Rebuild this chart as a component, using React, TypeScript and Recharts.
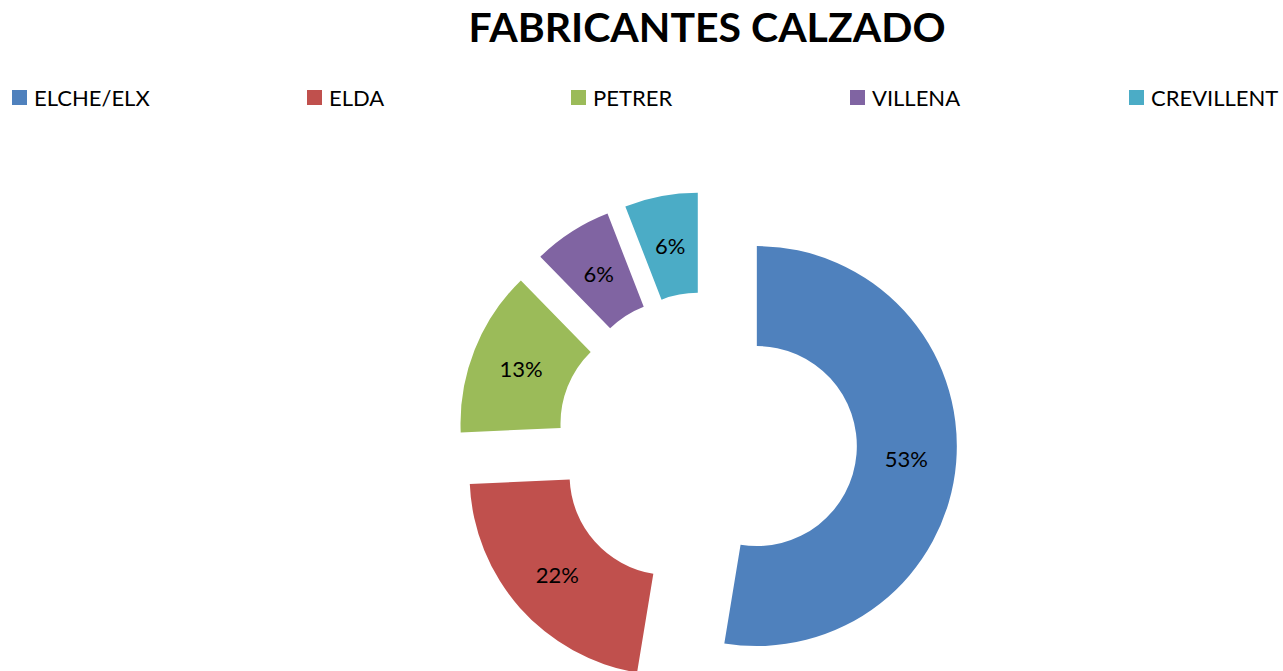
import { PieChart, Pie, Cell, Legend } from "recharts"

const categories = ["ELCHE/ELX", "ELDA", "PETRER", "VILLENA", "CREVILLENT"]
const values = [52.6, 21.7, 13.4, 6.4, 5.9]
const colors = ["#4F81BD", "#C0504D", "#9BBB59", "#8064A2", "#4BACC6"]
const legendLeft = [12, 307, 571, 850, 1129]

const WIDTH = 1283
const HEIGHT = 671
const CX = 707
const CY = 442
const EXPLODE = 50
const FONT = "Lato, 'Open Sans', sans-serif"

const total = values.reduce((a, b) => a + b, 0)

// each slice gets its own pie so it can be pushed out along its mid angle
let cum = 0
const slices = categories.map((name, i) => {
  const from = (cum / total) * 360
  cum += values[i]
  const to = (cum / total) * 360
  const mid = (((from + to) / 2) * Math.PI) / 180
  return {
    name,
    value: values[i],
    color: colors[i],
    startAngle: 90 - from,
    endAngle: 90 - to,
    cx: CX + EXPLODE * Math.sin(mid),
    cy: CY - EXPLODE * Math.cos(mid),
    pct: Math.round((values[i] / total) * 100),
  }
})

const RADIAN = Math.PI / 180

function makeLabel(pct: number) {
  return (props: any) => {
    const { cx, cy, midAngle, innerRadius, outerRadius } = props
    const r = (innerRadius + outerRadius) / 2
    const x = cx + r * Math.cos(-midAngle * RADIAN)
    const y = cy + r * Math.sin(-midAngle * RADIAN)
    return (
      <text
        x={x}
        y={y}
        fill="#000"
        textAnchor="middle"
        dominantBaseline="central"
        fontSize={22}
        fontFamily={FONT}
      >
        {`${pct}%`}
      </text>
    )
  }
}

function LegendContent() {
  return (
    <div style={{ position: "relative", width: WIDTH, height: 30 }}>
      {categories.map((c, i) => (
        <div
          key={c}
          style={{
            position: "absolute",
            left: legendLeft[i],
            top: 0,
            display: "flex",
            alignItems: "center",
            fontFamily: FONT,
            fontSize: 22,
            color: "#000",
            whiteSpace: "nowrap",
          }}
        >
          <span
            style={{
              display: "inline-block",
              width: 15,
              height: 15,
              background: colors[i],
              marginRight: 7,
            }}
          />
          {c}
        </div>
      ))}
    </div>
  )
}

export default function App() {
  return (
    <div
      style={{
        position: "absolute",
        left: 0,
        top: 0,
        width: WIDTH,
        height: HEIGHT,
        background: "#fff",
        overflow: "hidden",
      }}
    >
      <div
        style={{
          position: "absolute",
          left: CX - 400,
          top: 0,
          width: 800,
          textAlign: "center",
          fontFamily: FONT,
          fontWeight: 700,
          fontSize: 41,
          lineHeight: "54px",
          color: "#000",
        }}
      >
        FABRICANTES CALZADO
      </div>
      <PieChart
        width={WIDTH}
        height={HEIGHT}
        margin={{ top: 0, right: 0, bottom: 0, left: 0 }}
      >
        {slices.map((s) => (
          <Pie
            key={s.name}
            data={[{ name: s.name, value: s.value }]}
            dataKey="value"
            nameKey="name"
            cx={s.cx}
            cy={s.cy}
            innerRadius={100}
            outerRadius={200}
            startAngle={s.startAngle}
            endAngle={s.endAngle}
            stroke="none"
            labelLine={false}
            label={makeLabel(s.pct)}
            isAnimationActive={false}
          >
            <Cell fill={s.color} />
          </Pie>
        ))}
        <Legend
          content={<LegendContent />}
          wrapperStyle={{ position: "absolute", left: 0, top: 84, width: WIDTH }}
        />
      </PieChart>
    </div>
  )
}
